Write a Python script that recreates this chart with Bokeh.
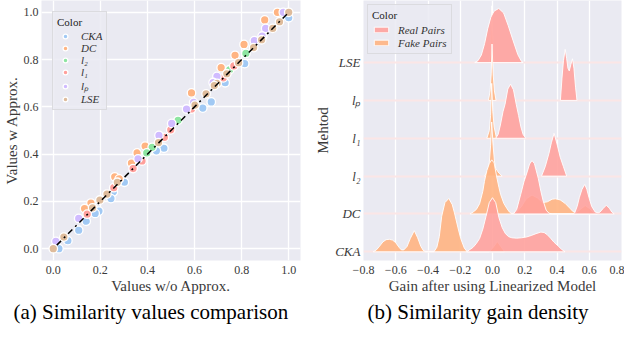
from bokeh.plotting import figure
from bokeh.layouts import row
from bokeh.models import FixedTicker, Legend, LegendItem, Title
from bokeh.embed import file_html
from bokeh.resources import INLINE

# ---------------- data: panel (a) scatter ----------------
cka_x = [1.0, 0.813, 0.73, 0.671, 0.635, 0.47, 0.438, 0.302, 0.255, 0.245, 0.194, 0.178, 0.14, 0.108, 0.062, 0.024]
cka_y = [0.977, 0.783, 0.702, 0.621, 0.595, 0.425, 0.414, 0.281, 0.24, 0.212, 0.159, 0.149, 0.116, 0.078, 0.034, 0.0]
dc_x = [0.952, 0.898, 0.81, 0.772, 0.713, 0.587, 0.39, 0.356, 0.332, 0.261, 0.28, 0.16, 0.133]
dc_y = [1.0, 0.968, 0.864, 0.818, 0.766, 0.659, 0.434, 0.405, 0.362, 0.304, 0.295, 0.193, 0.17]
l2_x = [0.89, 0.818, 0.749, 0.53, 0.42, 0.397]
l2_y = [0.9, 0.826, 0.757, 0.543, 0.429, 0.405]
l1_x = [0.767, 0.722, 0.587, 0.499, 0.472, 0.377, 0.339, 0.257, 0.144]
l1_y = [0.773, 0.723, 0.591, 0.503, 0.471, 0.371, 0.339, 0.258, 0.146]
lp_x = [0.977, 0.902, 0.887, 0.854, 0.695, 0.679, 0.596, 0.566, 0.503, 0.449, 0.36, 0.108, 0.011]
lp_y = [1.0, 0.932, 0.899, 0.88, 0.729, 0.703, 0.619, 0.591, 0.53, 0.479, 0.38, 0.128, 0.031]
lse_x = [1.0, 0.961, 0.932, 0.885, 0.851, 0.787, 0.737, 0.696, 0.684, 0.649, 0.602, 0.447, 0.272, 0.228, 0.198, 0.167, 0.045, 0.0]
lse_y = [1.0, 0.96, 0.932, 0.884, 0.851, 0.787, 0.74, 0.699, 0.69, 0.655, 0.607, 0.449, 0.281, 0.231, 0.206, 0.173, 0.049, 0.0]
diag_x = [0.015, 1.0]
diag_y = [0.015, 1.0]
scatter_labels = ["CKA", "DC", "l\u2082", "l\u2081", "l\u209a", "LSE"]
scatter_colors = ["#a1c9f4", "#ffb482", "#8de5a1", "#ff9f9b", "#d0bbff", "#debb9b"]
unit_ticks = [0.0, 0.2, 0.4, 0.6, 0.8, 1.0]
unit_tick_labels = ["0.0", "0.2", "0.4", "0.6", "0.8", "1.0"]

# ---------------- data: panel (b) ridge densities (row height units) ----------------
methods = ["CKA", "DC", "l\u2082", "l\u2081", "l\u209a", "LSE"]   # bottom -> top
gain_ticks = [-0.8, -0.6, -0.4, -0.2, 0.0, 0.2, 0.4, 0.6, 0.8]
gain_tick_labels = ["\u22120.8", "\u22120.6", "\u22120.4", "\u22120.2", "0.0", "0.2", "0.4", "0.6", "0.8"]

cka_fake_x = [-0.74, -0.72, -0.70, -0.68, -0.66, -0.64, -0.62, -0.60, -0.58, -0.565, -0.55, -0.53, -0.51, -0.485, -0.465,
              -0.445, -0.43, -0.415, -0.363, -0.345, -0.33, -0.315, -0.295, -0.271, -0.25, -0.236, -0.215, -0.197, -0.175,
              -0.157, -0.02, 0.005, 0.03, 0.05, 0.075]
cka_fake_h = [0.0, 0.05, 0.15, 0.26, 0.32, 0.33, 0.31, 0.24, 0.12, 0.05, 0.05, 0.14, 0.35, 0.56, 0.38,
              0.15, 0.04, 0.0, 0.0, 0.12, 0.4, 0.94, 1.3, 1.41, 1.25, 1.03, 0.65, 0.35, 0.1,
              0.0, 0.0, 0.12, 0.27, 0.15, 0.0]
cka_real_x = [-0.16, -0.12, -0.10, -0.08, -0.06, -0.04, -0.02, 0.0, 0.02, 0.04, 0.06, 0.08, 0.10, 0.12, 0.15, 0.18,
              0.21, 0.24, 0.27, 0.30, 0.32, 0.34, 0.36, 0.38, 0.41, 0.43, 0.45]
cka_real_h = [0.0, 0.12, 0.22, 0.35, 0.6, 0.94, 1.3, 1.43, 1.3, 0.9, 0.64, 0.48, 0.4, 0.37, 0.36, 0.37,
              0.39, 0.43, 0.48, 0.52, 0.51, 0.45, 0.36, 0.26, 0.14, 0.06, 0.0]
dc_fake_x = [-0.14, -0.12, -0.10, -0.08, -0.06, -0.05, -0.035, -0.02, -0.005, 0.01, 0.025, 0.04, 0.05, 0.07, 0.09,
             0.105, 0.12, 0.15, 0.18, 0.21, 0.245, 0.28, 0.31, 0.34, 0.37, 0.39, 0.42, 0.45, 0.48, 0.50, 0.52,
             0.55, 0.575, 0.60, 0.63, 0.65]
dc_fake_h = [0.0, 0.05, 0.12, 0.27, 0.6, 0.86, 1.15, 1.33, 1.43, 1.35, 1.0, 0.7, 0.52, 0.28, 0.14,
             0.05, 0.0, 0.05, 0.2, 0.4, 0.5, 0.42, 0.3, 0.32, 0.39, 0.4, 0.37, 0.28, 0.15, 0.06, 0.04,
             0.14, 0.22, 0.15, 0.03, 0.0]
dc_real_x = [0.13, 0.15, 0.175, 0.195, 0.215, 0.23, 0.245, 0.26, 0.284, 0.30, 0.314, 0.333, 0.35, 0.37, 0.50, 0.51,
             0.525, 0.539, 0.555, 0.572, 0.585, 0.598, 0.615, 0.637, 0.655, 0.667, 0.685, 0.706, 0.725, 0.74, 0.755]
dc_real_h = [0.0, 0.12, 0.52, 0.85, 1.11, 1.32, 1.41, 1.33, 0.94, 0.6, 0.35, 0.1, 0.02, 0.0, 0.0, 0.03,
             0.2, 0.44, 0.65, 0.78, 0.65, 0.44, 0.2, 0.05, 0.03, 0.05, 0.14, 0.23, 0.15, 0.05, 0.0]
l2_fake_x = [-0.05, -0.03, -0.02, -0.012, -0.005, 0.003, 0.012, 0.02, 0.04, 0.06]
l2_fake_h = [0.0, 0.12, 0.35, 0.8, 1.43, 0.85, 0.4, 0.2, 0.08, 0.0]
l2_real_x = [0.304, 0.327, 0.35, 0.365, 0.382, 0.40, 0.42, 0.44, 0.46]
l2_real_h = [0.0, 0.25, 0.6, 0.88, 1.13, 0.85, 0.5, 0.25, 0.0]
l1_fake_x = [-0.035, -0.02, -0.012, -0.005, 0.002, 0.01, 0.025]
l1_fake_h = [0.0, 0.2, 0.6, 1.45, 0.7, 0.3, 0.0]
l1_real_x = [0.02, 0.035, 0.049, 0.065, 0.078, 0.095, 0.112, 0.13, 0.147, 0.162, 0.176, 0.19, 0.206]
l1_real_h = [0.0, 0.1, 0.35, 0.7, 0.9, 1.3, 1.43, 1.28, 0.9, 0.6, 0.3, 0.1, 0.0]
lp_fake_x = [-0.025, -0.015, -0.008, -0.003, 0.004, 0.012, 0.022]
lp_fake_h = [0.0, 0.25, 0.7, 1.49, 0.7, 0.25, 0.0]
lp_real_x = [0.421, 0.431, 0.44, 0.451, 0.46, 0.468, 0.476, 0.486, 0.496, 0.505, 0.515, 0.524]
lp_real_h = [0.0, 0.59, 1.05, 1.35, 1.1, 0.85, 0.78, 0.95, 1.1, 0.85, 0.35, 0.0]
lse_fake_x = [-0.02, -0.01, -0.004, 0.003, 0.012]
lse_fake_h = [0.0, 0.3, 1.5, 0.4, 0.0]
lse_real_x = [-0.11, -0.09, -0.069, -0.049, -0.03, -0.01, 0.01, 0.039, 0.069, 0.098, 0.127, 0.157, 0.18, 0.19]
lse_real_h = [0.0, 0.05, 0.2, 0.5, 0.89, 1.2, 1.36, 1.43, 1.31, 0.97, 0.59, 0.21, 0.03, 0.0]

# ---------------- style ----------------
FONT = "Liberation Serif"
BG = "#eaeaf2"
TXT = "#3a3a3a"
REAL = "#ff9f9b"
FAKE = "#ffb482"


def style_axes(p):
    p.outline_line_color = None
    p.grid.grid_line_color = "white"
    p.grid.grid_line_width = 1.3
    for ax in (p.xaxis, p.yaxis):
        ax.axis_line_color = None
        ax.major_tick_line_color = None
        ax.minor_tick_line_color = None
        ax.major_tick_out = 0
        ax.major_tick_in = 0
        ax.major_label_text_font = FONT
        ax.major_label_text_font_size = "12px"
        ax.major_label_text_color = TXT
        ax.axis_label_text_font = FONT
        ax.axis_label_text_font_size = "15px"
        ax.axis_label_text_font_style = "normal"
        ax.axis_label_text_color = TXT
        ax.major_label_standoff = 3
        ax.axis_label_standoff = 1
    p.xaxis.major_label_standoff = 5


def style_legend(lg):
    lg.title_text_font = FONT
    lg.title_text_font_size = "11px"
    lg.title_text_font_style = "normal"
    lg.title_text_color = "#222222"
    lg.label_text_font = FONT
    lg.label_text_font_size = "11px"
    lg.label_text_font_style = "italic"
    lg.label_text_color = "#333333"
    lg.background_fill_color = BG
    lg.background_fill_alpha = 0.85
    lg.border_line_color = "#cccccc"
    lg.border_line_width = 1
    lg.padding = 4
    lg.spacing = 0
    lg.title_standoff = 2


def caption(text, offset):
    return Title(text=text, align="left", offset=offset, standoff=3,
                 text_font=FONT, text_font_size="21px", text_font_style="normal",
                 text_color="black")


# ---------------- panel (a) ----------------
p1 = figure(width=312, height=325, x_range=(-0.05, 1.05), y_range=(-0.05, 1.05),
            output_backend="svg", toolbar_location=None,
            background_fill_color=BG, border_fill_color="white",
            min_border_left=26, min_border_right=12, min_border_top=0, min_border_bottom=30)
style_axes(p1)
p1.xaxis.ticker = FixedTicker(ticks=unit_ticks)
p1.yaxis.ticker = FixedTicker(ticks=unit_ticks)
p1.xaxis.major_label_overrides = dict(zip(unit_ticks, unit_tick_labels))
p1.yaxis.major_label_overrides = dict(zip(unit_ticks, unit_tick_labels))
p1.xaxis.axis_label = "Values w/o Approx."
p1.yaxis.axis_label = "Values w Approx."

series = [(cka_x, cka_y), (dc_x, dc_y), (l2_x, l2_y), (l1_x, l1_y), (lp_x, lp_y), (lse_x, lse_y)]
items1 = []
for (xs, ys), lab, col in zip(series, scatter_labels, scatter_colors):
    r = p1.scatter(xs, ys, size=8.5, fill_color=col, line_color="white", line_width=1.3)
    items1.append(LegendItem(label=lab, renderers=[r]))
p1.line(diag_x, diag_y, line_color="black", line_width=1.5, line_dash="dashdot")

lg1 = Legend(items=items1, title="Color", location="top_left")
style_legend(lg1)
lg1.margin = 11
lg1.glyph_width = 16
lg1.glyph_height = 12
lg1.label_height = 12
lg1.label_standoff = 8
p1.add_layout(lg1)
p1.add_layout(caption("(a) Similarity values comparison", -28), "below")

# ---------------- panel (b) ----------------
p2 = figure(width=312, height=325, x_range=(-0.8, 0.8), y_range=(-0.23, 6.64),
            output_backend="svg", toolbar_location=None,
            background_fill_color=BG, border_fill_color="white",
            min_border_left=40, min_border_right=3, min_border_top=0, min_border_bottom=30)
style_axes(p2)
p2.ygrid.grid_line_color = None
p2.xaxis.ticker = FixedTicker(ticks=gain_ticks)
p2.xaxis.major_label_overrides = dict(zip(gain_ticks, gain_tick_labels))
p2.yaxis.ticker = FixedTicker(ticks=list(range(len(methods))))
p2.yaxis.major_label_overrides = {i: m for i, m in enumerate(methods)}
p2.yaxis.major_label_text_font_style = "italic"
p2.yaxis.major_label_text_font_size = "13px"
p2.xaxis.axis_label = "Gain after using Linearized Model"
p2.yaxis.axis_label = "Mehtod"

curves = [
    (lse_fake_x, lse_fake_h, lse_real_x, lse_real_h),
    (lp_fake_x, lp_fake_h, lp_real_x, lp_real_h),
    (l1_fake_x, l1_fake_h, l1_real_x, l1_real_h),
    (l2_fake_x, l2_fake_h, l2_real_x, l2_real_h),
    (dc_fake_x, dc_fake_h, dc_real_x, dc_real_h),
    (cka_fake_x, cka_fake_h, cka_real_x, cka_real_h),
]
real_r = fake_r = None
for k, (fx, fh, rx, rh) in enumerate(curves):
    base = len(methods) - 1 - k
    p2.hspan(y=[base], line_color="#fbe6e6", line_width=2)
    fake_r = p2.patch(fx, [base + h for h in fh], fill_color=FAKE, fill_alpha=0.9,
                      line_color="white", line_width=1, line_alpha=0.9)
    real_r = p2.patch(rx, [base + h for h in rh], fill_color=REAL, fill_alpha=0.88,
                      line_color="white", line_width=1, line_alpha=0.9)

lg2 = Legend(items=[LegendItem(label="Real Pairs", renderers=[real_r]),
                    LegendItem(label="Fake Pairs", renderers=[fake_r])],
             title="Color", location="top_left")
style_legend(lg2)
lg2.margin = 4
lg2.glyph_width = 18
lg2.glyph_height = 7
lg2.label_height = 13
lg2.label_standoff = 8
p2.add_layout(lg2)
p2.add_layout(caption("(b) Similarity gain density", 4), "below")

layout = row(p1, p2)
open("out.html", "w").write(file_html(layout, INLINE))
